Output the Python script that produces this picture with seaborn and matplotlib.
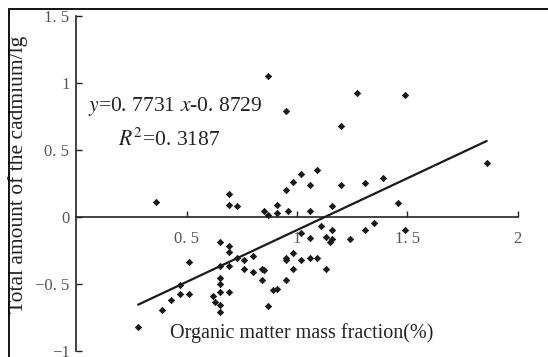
import numpy as np
import pandas as pd
import matplotlib
matplotlib.use("Agg")
import matplotlib.pyplot as plt
import seaborn as sns
from matplotlib.patches import Rectangle

# Organic matter mass fraction (%)
om = [0.28, 0.36, 0.39, 0.43, 0.47, 0.47, 0.51, 0.51, 0.62, 0.63, 0.65, 0.65, 0.65,
      0.65, 0.65, 0.65, 0.65, 0.69, 0.69, 0.69, 0.69, 0.69, 0.69, 0.73, 0.73, 0.76,
      0.76, 0.80, 0.80, 0.84, 0.85, 0.84, 0.85, 0.87, 0.87, 0.87, 0.89, 0.91, 0.91,
      0.91, 0.95, 0.95, 0.95, 0.95, 0.95, 0.96, 0.98, 0.98, 0.98, 1.02, 1.02, 1.02,
      1.06, 1.06, 1.06, 1.06, 1.09, 1.09, 1.11, 1.13, 1.13, 1.15, 1.16, 1.16, 1.16,
      1.20, 1.20, 1.24, 1.27, 1.31, 1.31, 1.35, 1.39, 1.46, 1.49, 1.49, 1.86]
# Total amount of cadmium (lg)
cd = [-0.82, 0.11, -0.70, -0.62, -0.51, -0.58, -0.58, -0.34, -0.59, -0.64, -0.66, -0.71,
      -0.56, -0.50, -0.46, -0.37, -0.19, -0.22, -0.26, -0.37, -0.56, 0.17, 0.09, 0.08,
      -0.31, -0.32, -0.39, -0.29, -0.41, -0.39, -0.40, -0.47, 0.04, 1.05, 0.01, -0.67,
      -0.55, -0.54, 0.09, 0.03, 0.79, 0.20, -0.31, -0.32, -0.47, 0.04, 0.26, -0.27,
      -0.39, 0.32, -0.12, -0.32, 0.24, 0.04, -0.16, -0.31, 0.35, -0.31, -0.07, -0.39,
      -0.15, -0.19, 0.08, -0.10, -0.17, 0.68, 0.24, -0.17, 0.92, 0.25, -0.10, -0.05,
      0.29, 0.10, 0.91, -0.10, 0.40]

slope = 0.7731
intercept = -0.8729
r2 = 0.3187

x_ticks = [0.5, 1, 1.5, 2]
x_tick_labels = ["0. 5", "1", "1. 5", "2"]
y_ticks = [-1, -0.5, 0, 0.5, 1, 1.5]
y_tick_labels = ["\u22121", "\u22120. 5", "0", "0. 5", "1", "1. 5"]

sns.set_theme(style="white")
plt.rcParams['font.family'] = ['Liberation Serif', 'DejaVu Serif']
plt.rcParams['mathtext.fontset'] = 'stix'

fig = plt.figure(figsize=(5.48, 3.57), dpi=100)
ax = fig.add_axes([0.1394, 0.01765, 0.8051, 0.9384])

df = pd.DataFrame({'om': om, 'cd': cd})
sns.scatterplot(data=df, x='om', y='cd', marker='D', s=10, color='#1a1a1a',
                edgecolor='#1a1a1a', linewidth=0.6, ax=ax, zorder=3)
xl = np.array([min(om), max(om)])
sns.lineplot(x=xl, y=slope * xl + intercept, color='#1a1a1a', lw=1.6, ax=ax, zorder=4)

ax.set_xlim(0, 2)
ax.set_ylim(-1, 1.5)
ax.set_xlabel("")
ax.set_ylabel("")
ax.grid(False)
ax.set_facecolor('none')

for s in ['top', 'right']:
    ax.spines[s].set_visible(False)
ax.spines['bottom'].set_position(('data', 0))
for s in ['bottom', 'left']:
    ax.spines[s].set_color('#222222')
    ax.spines[s].set_linewidth(1.2)

ax.set_xticks(x_ticks)
ax.set_xticklabels(x_tick_labels)
ax.set_yticks(y_ticks)
ax.set_yticklabels(y_tick_labels)
ax.tick_params(axis='x', direction='in', length=4, width=1, color='#222222',
               labelsize=12, labelcolor='#555555', pad=10, bottom=True)
ax.tick_params(axis='y', direction='in', length=4, width=1, color='#222222',
               labelsize=12, labelcolor='#555555', pad=5, left=True)

ax.text(0.053, 0.826, r"$y$=0. 7731 $x$-0. 8729", fontsize=15.5, color='#222222',
        ha='left', va='center')
ax.text(0.189, 0.572, r"$R^{2}$=0. 3187", fontsize=15.5, color='#222222',
        ha='left', va='center')
ax.text(1.023, -0.868, "Organic matter mass fraction(%)", fontsize=14.5,
        color='#222222', ha='center', va='center')
fig.text(18.5 / 548, 0.511, "Total amount of the cadmium/lg", fontsize=15.5,
         color='#222222', rotation=90, ha='center', va='center')

fig.patches.append(Rectangle((9 / 548, -0.1), 1.0, (357 - 9) / 357 + 0.1,
                             transform=fig.transFigure, fill=False, lw=1.3,
                             ec='black', zorder=10))

fig.savefig("out.png", dpi=100)
